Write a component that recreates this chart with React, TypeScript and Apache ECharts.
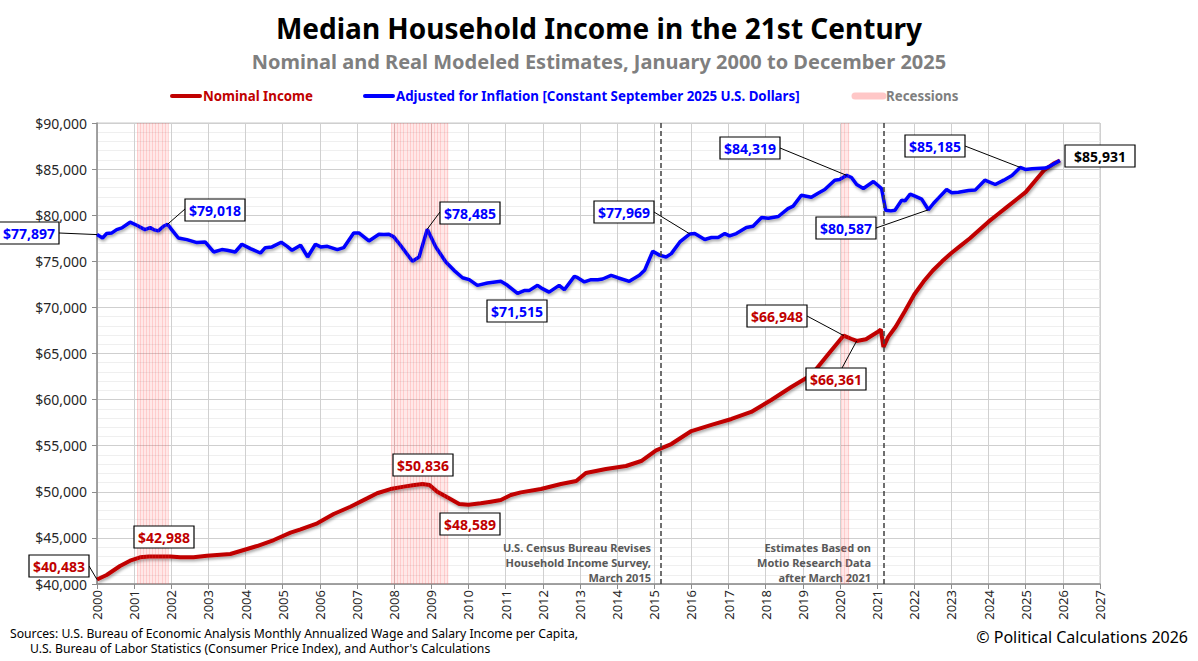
import React, { useEffect, useRef } from "react";
import * as echarts from "echarts";

const realYears = [
  2000.0, 2000.15, 2000.26, 2000.4, 2000.53, 2000.67, 2000.89, 2001.07, 2001.29, 2001.43, 2001.52, 2001.65, 2001.79, 2001.9,
  2002.01, 2002.19, 2002.42, 2002.69, 2002.91, 2003.14, 2003.36, 2003.5, 2003.72, 2003.9, 2004.13, 2004.4, 2004.53, 2004.71,
  2004.96, 2005.12, 2005.25, 2005.48, 2005.67, 2005.88, 2006.02, 2006.2, 2006.47, 2006.64, 2006.91, 2007.05, 2007.32, 2007.59,
  2007.72, 2007.86, 2007.99, 2008.17, 2008.49, 2008.67, 2008.89, 2009.12, 2009.39, 2009.61, 2009.84, 2010.02, 2010.24, 2010.51,
  2010.87, 2011.05, 2011.32, 2011.5, 2011.63, 2011.86, 2011.99, 2012.17, 2012.44, 2012.58, 2012.85, 2012.94, 2013.12, 2013.3,
  2013.48, 2013.61, 2013.84, 2014.02, 2014.33, 2014.6, 2014.74, 2014.96, 2015.14, 2015.32, 2015.46, 2015.69, 2015.96, 2016.09,
  2016.36, 2016.54, 2016.72, 2016.9, 2017.03, 2017.21, 2017.48, 2017.66, 2017.89, 2018.07, 2018.34, 2018.6, 2018.74, 2018.96,
  2019.23, 2019.41, 2019.59, 2019.86, 2019.99, 2020.18, 2020.31, 2020.45, 2020.63, 2020.9, 2021.12, 2021.23, 2021.37, 2021.48,
  2021.66, 2021.75, 2021.89, 2022.02, 2022.2, 2022.38, 2022.52, 2022.65, 2022.87, 2023.01, 2023.19, 2023.46, 2023.64, 2023.9,
  2024.18, 2024.41, 2024.63, 2024.85, 2024.99, 2025.17, 2025.53, 2025.66, 2025.92,
];
const realValues = [
  77897, 77533, 78010, 78080, 78440, 78620, 79240, 78910, 78440, 78660, 78440, 78300, 78800, 79018,
  78440, 77530, 77350, 77030, 77100, 76010, 76270, 76200, 76010, 76850, 76380, 75900, 76480, 76560,
  77065, 76620, 76190, 76740, 75470, 76850, 76560, 76620, 76270, 76480, 78080, 78080, 77210, 77930,
  77900, 77930, 77650, 76740, 75000, 75470, 78485, 76550, 74930, 74020, 73220, 73010, 72390, 72640,
  72830, 72390, 71515, 71820, 71820, 72390, 72030, 71660, 72390, 71920, 73370, 73220, 72760, 73010,
  73010, 73080, 73480, 73220, 72830, 73480, 74020, 76090, 75670, 75470, 75830, 77100, 77969, 78010,
  77360, 77580, 77580, 78010, 77760, 78010, 78660, 78800, 79750, 79680, 79860, 80720, 80980, 82170,
  81950, 82390, 82790, 83800, 83870, 84319, 84090, 83330, 82900, 83660, 82900, 80540, 80470, 80540,
  81630, 81560, 82280, 82060, 81740, 80587, 81300, 81850, 82790, 82430, 82500, 82680, 82720, 83800,
  83330, 83800, 84310, 85185, 84960, 85030, 85110, 85330, 85931,
];

const nominalYears = [
  2000.0, 2000.26, 2000.62, 2000.89, 2001.16, 2001.4, 2001.7, 2001.97, 2002.24, 2002.6, 2002.96, 2003.59, 2003.95, 2004.31,
  2004.76, 2005.21, 2005.48, 2005.93, 2006.37, 2006.82, 2007.27, 2007.54, 2007.9, 2008.26, 2008.5, 2008.76, 2008.95, 2009.16,
  2009.43, 2009.75, 2010.0, 2010.33, 2010.6, 2010.87, 2011.14, 2011.41, 2011.95, 2012.49, 2012.9, 2013.16, 2013.7, 2014.24,
  2014.65, 2015.05, 2015.46, 2016.0, 2016.54, 2017.08, 2017.61, 2018.15, 2018.69, 2019.23, 2019.7, 2020.1, 2020.3, 2020.45,
  2020.7, 2021.0, 2021.1, 2021.17, 2021.3, 2021.5, 2021.75, 2022.0, 2022.25, 2022.5, 2022.75, 2023.0, 2023.25, 2023.5,
  2023.75, 2024.0, 2024.25, 2024.5, 2024.75, 2025.0, 2025.25, 2025.5, 2025.75, 2025.92,
];
const nominalValues = [
  40483, 40976, 41950, 42530, 42890, 42988, 42988, 42990, 42890, 42900, 43070, 43250, 43690, 44120,
  44770, 45570, 45930, 46580, 47590, 48380, 49290, 49840, 50300, 50560, 50720, 50836, 50740, 50010,
  49400, 48680, 48589, 48750, 48930, 49110, 49650, 49940, 50300, 50850, 51170, 52040, 52470, 52800,
  53340, 54500, 55180, 56590, 57250, 57900, 58660, 59960, 61370, 62670, 65000, 66948, 66600, 66361,
  66550, 67300, 67600, 65700, 66800, 67900, 69600, 71400, 72800, 74000, 75000, 75900, 76700, 77500,
  78400, 79300, 80100, 80900, 81700, 82500, 83700, 84900, 85600, 85931,
];

const recessionStarts = [2001.08, 2007.92, 2020.04];
const recessionEnds = [2001.92, 2009.46, 2020.25];
const revisionYears = [2015.17, 2021.17];

const yMin = 40000;
const yMax = 90000;
const yStep = 5000;
const xMin = 2000;
const xMax = 2027;

const NOM = "#C00000";
const REAL = "#0000FF";
const FONT = "'Noto Sans', sans-serif";

type Ann = { text: string; color: string; year: number; value: number; cx: number; cy: number; lead: number[] | null; w?: number };
const annotations: Ann[] = [
  { text: "$77,897", color: REAL, year: 2000.0, value: 77897, cx: 29, cy: 233, lead: [59, 233] },
  { text: "$79,018", color: REAL, year: 2001.9, value: 79018, cx: 215, cy: 210, lead: [185, 209] },
  { text: "$78,485", color: REAL, year: 2008.89, value: 78485, cx: 470, cy: 213, lead: [440, 212] },
  { text: "$71,515", color: REAL, year: 2011.32, value: 71515, cx: 517, cy: 311, lead: null },
  { text: "$77,969", color: REAL, year: 2015.96, value: 77969, cx: 624, cy: 212, lead: [654, 212] },
  { text: "$84,319", color: REAL, year: 2020.18, value: 84319, cx: 750, cy: 148, lead: [780, 148] },
  { text: "$80,587", color: REAL, year: 2022.38, value: 80587, cx: 846, cy: 228, lead: [876, 228] },
  { text: "$85,185", color: REAL, year: 2024.85, value: 85185, cx: 935, cy: 146, lead: [965, 146] },
  { text: "$85,931", color: "#000000", year: 2025.92, value: 85931, cx: 1100, cy: 156, lead: null, w: 70 },
  { text: "$40,483", color: NOM, year: 2000.0, value: 40483, cx: 59, cy: 566, lead: [89, 566] },
  { text: "$42,988", color: NOM, year: 2001.4, value: 42988, cx: 164, cy: 537, lead: null },
  { text: "$50,836", color: NOM, year: 2008.76, value: 50836, cx: 423, cy: 465, lead: null },
  { text: "$48,589", color: NOM, year: 2010.0, value: 48589, cx: 470, cy: 524, lead: null },
  { text: "$66,948", color: NOM, year: 2020.1, value: 66948, cx: 777, cy: 316, lead: [807, 316] },
  { text: "$66,361", color: NOM, year: 2020.45, value: 66361, cx: 836, cy: 379, lead: [842, 368] },
];

const zip = (xs: number[], ys: number[]) => xs.map((x, i) => [x, ys[i]]);

export default function App() {
  const ref = useRef<HTMLDivElement>(null);
  useEffect(() => {
    document.body.style.margin = "0";
    const chart = echarts.init(ref.current!, null, { renderer: "svg" });
    const lineShadow = { shadowColor: "rgba(0,0,0,0.35)", shadowBlur: 3, shadowOffsetX: 1, shadowOffsetY: 2 };
    // monthly stripe positions inside each recession band (styling only)
    const stripes: number[] = [];
    recessionStarts.forEach((s, i) => {
      for (let m = s; m <= recessionEnds[i] + 1e-6; m += 1 / 12) stripes.push(m);
    });
    chart.setOption({
      animation: false,
      textStyle: { fontFamily: FONT },
      grid: { left: 97, right: 98, top: 123, bottom: 77, show: true, borderColor: "#c8c8c8", borderWidth: 1 },
      xAxis: {
        type: "value", min: xMin, max: xMax, interval: 1,
        axisLine: { show: true, lineStyle: { color: "#8c8c8c", width: 1.5 } },
        axisTick: { show: true, length: 5, lineStyle: { color: "#8c8c8c" } },
        axisLabel: { rotate: 90, color: "#262626", fontSize: 13, margin: 6, formatter: (v: number) => String(v) },
        splitLine: { show: true, lineStyle: { color: "#d0d0d0", width: 1 } },
      },
      yAxis: {
        type: "value", min: yMin, max: yMax, interval: yStep,
        axisLine: { show: true, lineStyle: { color: "#8c8c8c", width: 1.5 } },
        axisTick: { show: true, length: 5, lineStyle: { color: "#8c8c8c" } },
        axisLabel: { color: "#262626", fontSize: 14, margin: 10, formatter: (v: number) => "$" + v.toLocaleString("en-US") },
        splitLine: { show: true, lineStyle: { color: "#cfcfcf", width: 1 } },
        minorTick: { show: false, splitNumber: 5 },
        minorSplitLine: { show: true, lineStyle: { color: "#efefef", width: 1 } },
      },
      series: [
        {
          type: "line", name: "Recessions", data: [], silent: true,
          markArea: {
            silent: true,
            itemStyle: { color: "rgba(255,110,110,0.16)" },
            data: recessionStarts.map((s, i) => [{ xAxis: s }, { xAxis: recessionEnds[i] }]),
          },
        },
        {
          type: "line", name: "RecessionStripes", data: [], silent: true,
          markLine: {
            silent: true, symbol: "none", label: { show: false },
            lineStyle: { type: "solid", color: "rgba(255,80,80,0.18)", width: 1 },
            data: stripes.map((y) => ({ xAxis: y })),
          },
        },
        {
          type: "line", name: "Revisions", data: [], silent: true,
          markLine: {
            silent: true, symbol: "none", label: { show: false },
            lineStyle: { type: [5, 3], color: "#404040", width: 1.5 },
            data: revisionYears.map((y) => ({ xAxis: y })),
          },
        },
        {
          type: "line", name: "Nominal Income", data: zip(nominalYears, nominalValues), showSymbol: false,
          lineStyle: { color: NOM, width: 4, ...lineShadow }, itemStyle: { color: NOM }, z: 3,
        },
        {
          type: "line", name: "Adjusted for Inflation", data: zip(realYears, realValues), showSymbol: false,
          lineStyle: { color: REAL, width: 3.5, ...lineShadow }, itemStyle: { color: REAL }, z: 4,
        },
      ],
    });

    const g: any[] = [];
    // Titles
    g.push({ type: "text", left: "center", top: 14, style: { text: "Median Household Income in the 21st Century", font: `bold 28px ${FONT}`, fill: "#000" } });
    g.push({ type: "text", left: "center", top: 51, style: { text: "Nominal and Real Modeled Estimates, January 2000 to December 2025", font: `bold 20px ${FONT}`, fill: "#7f7f7f" } });
    // Legend
    const legY = 96;
    const leg = [
      { x: 172, color: NOM, text: "Nominal Income", tc: NOM, w: 4 },
      { x: 365, color: REAL, text: "Adjusted for Inflation [Constant September 2025 U.S. Dollars]", tc: REAL, w: 4 },
      { x: 855, color: "rgba(255,130,130,0.45)", text: "Recessions", tc: "#7f7f7f", w: 7 },
    ];
    leg.forEach((l) => {
      g.push({ type: "line", shape: { x1: l.x, y1: legY, x2: l.x + 28, y2: legY }, style: { stroke: l.color, lineWidth: l.w, lineCap: "round" } });
      g.push({ type: "text", x: l.x + 31, y: legY, style: { text: l.text, font: `bold 13.3px ${FONT}`, fill: l.tc, textVerticalAlign: "middle" } });
    });
    // Revision notes
    const noteStyle = (text: string, x: number, y: number) => ({
      type: "text", x, y, style: { text, font: `bold 11px ${FONT}`, fill: "#595959", textAlign: "right", textVerticalAlign: "middle" },
    });
    ["U.S. Census Bureau Revises", "Household Income Survey,", "March 2015"].forEach((t, i) => g.push(noteStyle(t, 651, 547 + i * 15)));
    ["Estimates Based on", "Motio Research Data", "after March 2021"].forEach((t, i) => g.push(noteStyle(t, 871, 547 + i * 15)));
    // Sources & copyright
    g.push({ type: "text", x: 10, y: 633, style: { text: "Sources: U.S. Bureau of Economic Analysis Monthly Annualized Wage and Salary Income per Capita,", font: `12.2px ${FONT}`, fill: "#000", textVerticalAlign: "middle" } });
    g.push({ type: "text", x: 30, y: 648, style: { text: "U.S. Bureau of Labor Statistics (Consumer Price Index), and Author's Calculations", font: `12.2px ${FONT}`, fill: "#000", textVerticalAlign: "middle" } });
    g.push({ type: "text", x: 1188, y: 637, style: { text: "© Political Calculations 2026", font: `16px ${FONT}`, fill: "#000", textAlign: "right", textVerticalAlign: "middle" } });
    // Annotations
    annotations.forEach((a) => {
      const p = chart.convertToPixel({ gridIndex: 0 }, [a.year, a.value]) as number[];
      if (a.lead) {
        g.push({ type: "line", z: 50, shape: { x1: a.lead[0], y1: a.lead[1], x2: p[0], y2: p[1] }, style: { stroke: "#000", lineWidth: 1 } });
      }
      const w = a.w || 60;
      const h = 22;
      g.push({ type: "rect", z: 60, shape: { x: a.cx - w / 2, y: a.cy - h / 2, width: w, height: h }, style: { fill: "#fff", stroke: "#000", lineWidth: 1.2 } });
      g.push({ type: "text", z: 61, x: a.cx, y: a.cy, style: { text: a.text, font: `bold 14px ${FONT}`, fill: a.color, textAlign: "center", textVerticalAlign: "middle" } });
    });
    chart.setOption({ graphic: g });
    return () => chart.dispose();
  }, []);
  return <div ref={ref} style={{ width: 1198, height: 661 }} />;
}
